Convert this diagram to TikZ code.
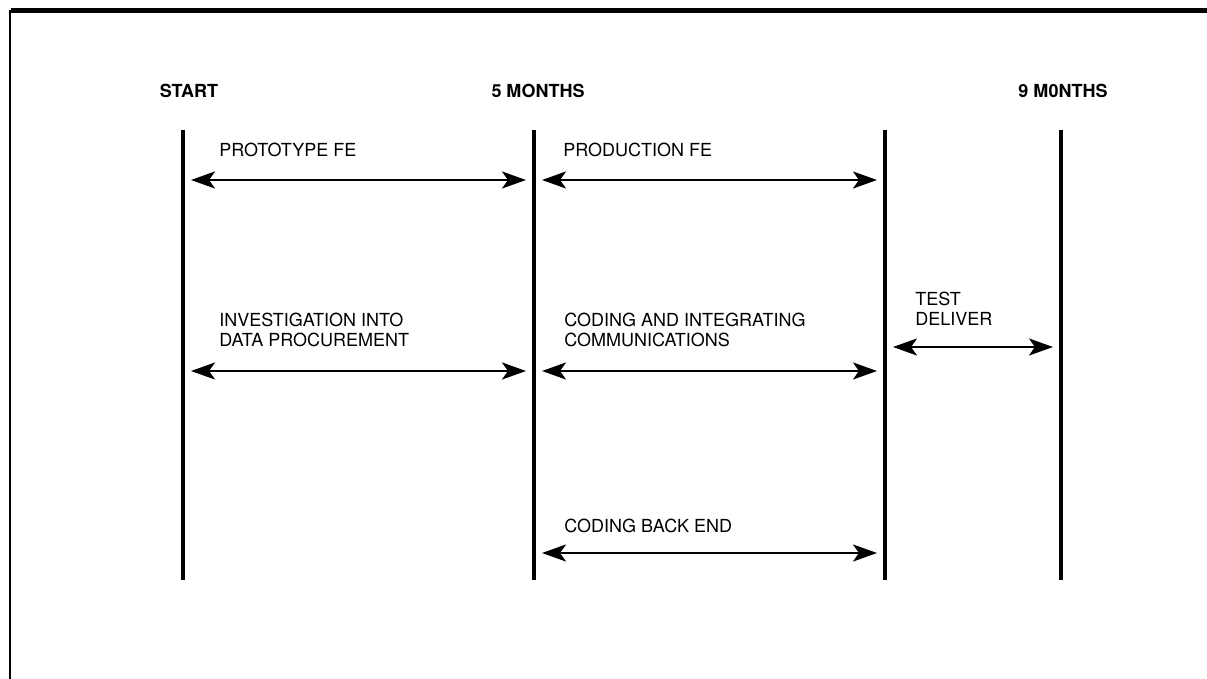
\documentclass[tikz,border=0pt]{standalone}
\usepackage{fontspec}
\setmainfont{TeX Gyre Heros}
\usetikzlibrary{arrows.meta}
\usetikzlibrary{calc}

\begin{document}
\begin{tikzpicture}[x=0.5pt, y=-0.5pt,
    font=\fontsize{9}{10}\selectfont,
    milestone/.style={font=\fontsize{9}{10}\selectfont\bfseries, anchor=base, inner sep=0pt},
    task/.style={align=left, anchor=south west, inner sep=0pt, text depth=0pt},
    phase/.style={line width=2pt},
    arrow/.style={{Stealth[length=12pt,width=8.5pt,inset=3pt]}-{Stealth[length=12pt,width=8.5pt,inset=3pt]}, line width=1.3pt, shorten <=4pt, shorten >=4pt},
]
\useasboundingbox (0,0) rectangle (1207,679);

% frame
\draw[line width=2.5pt] (1207,11) -- (11,11);
\draw[line width=0.8pt] (10,10) -- (10,679);

% time lines
\foreach \x/\n in {183/start, 534/five, 885/eight, 1061/nine}{
  \coordinate (\n-top) at (\x,130);
  \coordinate (\n-bot) at (\x,580);
  \draw[phase] (\n-top) -- (\n-bot);
}

\node[milestone] (startlbl) at (189,98) {START};
\node[milestone] (fivelbl) at (538,98) {5 MONTHS};
\node[milestone] (ninelbl) at (1063,98) {9 M0NTHS};

% rows of arrows
\coordinate (row1) at (0,180);
\coordinate (row2) at (0,371);
\coordinate (rowtest) at (0,347);
\coordinate (row3) at (0,553);

\draw[arrow] (start-top |- row1) -- (five-top |- row1);
\draw[arrow] (five-top |- row1) -- (eight-top |- row1);
\draw[arrow] (start-top |- row2) -- (five-top |- row2);
\draw[arrow] (five-top |- row2) -- (eight-top |- row2);
\draw[arrow] (eight-top |- rowtest) -- (nine-top |- rowtest);
\draw[arrow] (five-top |- row3) -- (eight-top |- row3);

\node[task] (proto) at (219,157) {PROTOTYPE FE};
\node[task] (prod) at (563,157) {PRODUCTION FE};
\node[task] (invest) at (219,347) {INVESTIGATION INTO\\DATA PROCUREMENT};
\node[task] (comms) at (564,347) {CODING AND INTEGRATING\\COMMUNICATIONS};
\node[task] (test) at (915,326) {TEST\\DELIVER};
\node[task] (backend) at (564,533) {CODING BACK END};
\end{tikzpicture}
\end{document}
